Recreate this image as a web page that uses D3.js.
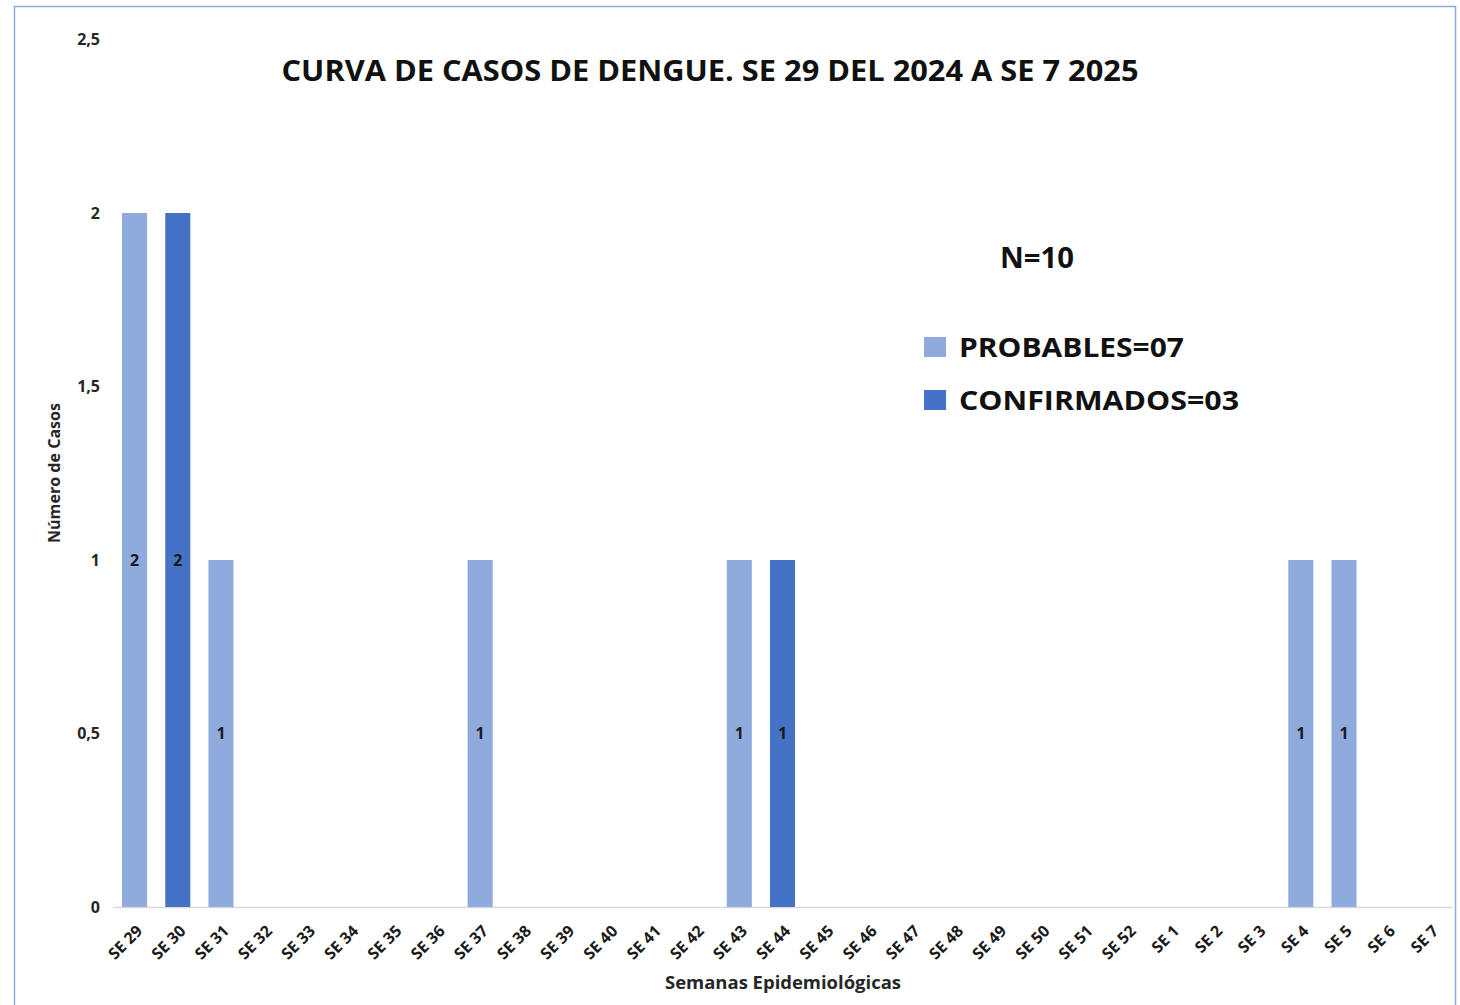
<!DOCTYPE html>
<html><head><meta charset="utf-8">
<script src="https://cdn.jsdelivr.net/npm/d3@7"></script>
<style>body{margin:0;background:#fff}svg{display:block}</style>
</head><body>
<svg id="c" width="1460" height="1005"></svg>
<script>
const weeks = ["SE 29","SE 30","SE 31","SE 32","SE 33","SE 34","SE 35","SE 36","SE 37","SE 38","SE 39","SE 40","SE 41","SE 42","SE 43","SE 44","SE 45","SE 46","SE 47","SE 48","SE 49","SE 50","SE 51","SE 52","SE 1","SE 2","SE 3","SE 4","SE 5","SE 6","SE 7"];
const probables = [2,0,1,0,0,0,0,0,1,0,0,0,0,0,1,0,0,0,0,0,0,0,0,0,0,0,0,1,1,0,0];
const confirmados = [0,2,0,0,0,0,0,0,0,0,0,0,0,0,0,1,0,0,0,0,0,0,0,0,0,0,0,0,0,0,0];
const yTicks = [0,0.5,1,1.5,2,2.5];
const seriesNames = ["PROBABLES=07","CONFIRMADOS=03"];
const colors = ["#8faadc","#4472c4"];

const svg = d3.select("#c");
const font = "'Open Sans', sans-serif";

// border
svg.append("rect").attr("x",14.5).attr("y",6.5).attr("width",1441).attr("height",1010)
  .attr("fill","none").attr("stroke","#8faadc").attr("stroke-width",1.5);

const x = d3.scaleBand().domain(weeks).range([113,1452]).paddingInner(0.42).paddingOuter(0.21);
const y = d3.scaleLinear().domain([0,2.5]).range([907,39.5]);

// y tick labels
svg.append("g").selectAll("text").data(yTicks).join("text")
  .attr("x",100).attr("y",d=>y(d)).attr("dy","0.35em").attr("text-anchor","end")
  .attr("font-family",font).attr("font-weight","bold").attr("font-size",16).attr("fill","#262626")
  .text(d=>d3.format(".1~f")(d).replace(".",","));

// x axis line
svg.append("line").attr("x1",113).attr("x2",1452).attr("y1",y(0)+0.5).attr("y2",y(0)+0.5)
  .attr("stroke","#d9d9d9").attr("stroke-width",1.5);

const series = [probables, confirmados];
series.forEach((vals,si)=>{
  const data = weeks.map((w,i)=>({w,v:vals[i]})).filter(d=>d.v>0);
  const g = svg.append("g");
  g.selectAll("rect").data(data).join("rect")
    .attr("x",d=>x(d.w)).attr("width",x.bandwidth())
    .attr("y",d=>y(d.v)).attr("height",d=>y(0)-y(d.v))
    .attr("fill",colors[si]);
  g.selectAll("text").data(data).join("text")
    .attr("x",d=>x(d.w)+x.bandwidth()/2).attr("y",d=>y(d.v/2)).attr("dy","0.35em")
    .attr("text-anchor","middle").attr("font-family",font).attr("font-weight","bold")
    .attr("font-size",16).attr("fill","#1a1a1a").text(d=>d.v);
});

// x tick labels
svg.append("g").selectAll("text").data(weeks).join("text")
  .attr("transform",d=>`translate(${x(d)+x.bandwidth()/2+5},${y(0)+21}) rotate(-45)`)
  .attr("text-anchor","end").attr("dy","0.35em")
  .attr("font-family",font).attr("font-weight","bold").attr("font-size",16).attr("fill","#1a1a1a")
  .attr("letter-spacing","0")
  .text(d=>d);

// axis titles
svg.append("text").attr("x",783).attr("y",989).attr("text-anchor","middle")
  .attr("font-family",font).attr("font-weight","bold").attr("font-size",17).attr("fill","#262626")
  .attr("textLength",236).attr("lengthAdjust","spacingAndGlyphs")
  .text("Semanas Epidemiológicas");
svg.append("text").attr("transform","translate(60,473) rotate(-90)").attr("text-anchor","middle")
  .attr("font-family",font).attr("font-weight","bold").attr("font-size",16).attr("fill","#262626")
  .attr("textLength",140).attr("lengthAdjust","spacingAndGlyphs")
  .text("Número de Casos");

// title
svg.append("text").attr("x",710).attr("y",81).attr("text-anchor","middle")
  .attr("font-family",font).attr("font-weight","bold").attr("font-size",28).attr("fill","#111")
  .attr("textLength",857).attr("lengthAdjust","spacingAndGlyphs")
  .text("CURVA DE CASOS DE DENGUE. SE 29 DEL 2024 A SE 7 2025");

// N
svg.append("text").attr("x",1037).attr("y",268).attr("text-anchor","middle")
  .attr("font-family",font).attr("font-weight","bold").attr("font-size",28).attr("fill","#111")
  .attr("textLength",74).attr("lengthAdjust","spacingAndGlyphs")
  .text("N=10");

// legend
const legendLen = [225,280];
const lg = svg.append("g");
seriesNames.forEach((n,i)=>{
  lg.append("rect").attr("x",924).attr("y",337+i*53).attr("width",22).attr("height",20).attr("fill",colors[i]);
  lg.append("text").attr("x",959).attr("y",357+i*53)
    .attr("font-family",font).attr("font-weight","bold").attr("font-size",27).attr("fill","#111")
    .attr("textLength",legendLen[i]).attr("lengthAdjust","spacingAndGlyphs")
    .text(n);
});
</script>
</body></html>
